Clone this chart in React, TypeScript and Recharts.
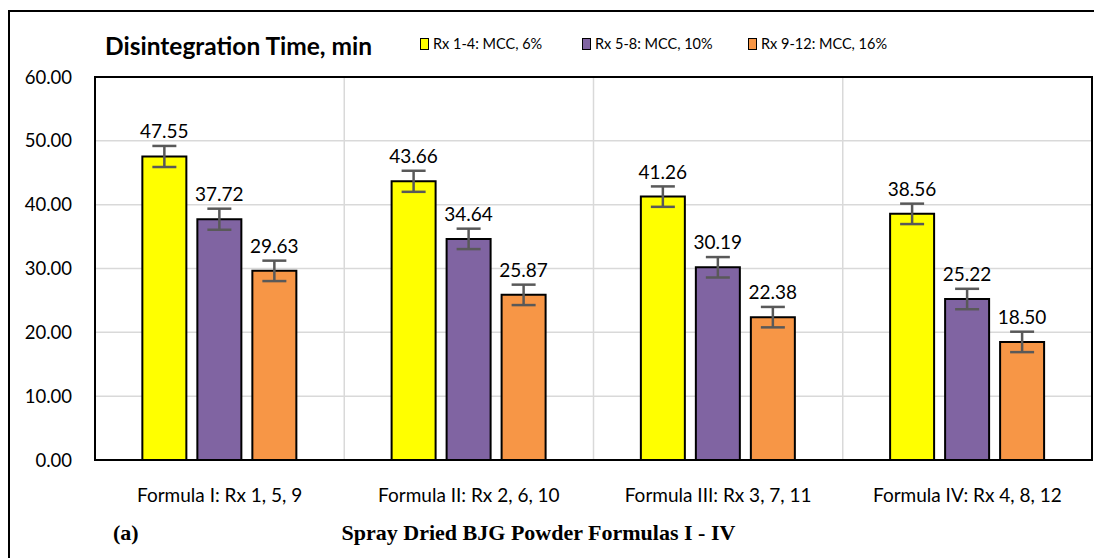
import { BarChart, Bar, XAxis, YAxis, CartesianGrid, ErrorBar, LabelList, ReferenceArea } from "recharts";

const categories = ["Formula I: Rx 1, 5, 9", "Formula II: Rx 2, 6, 10", "Formula III: Rx 3, 7, 11", "Formula IV: Rx 4, 8, 12"];
const mcc6 = [47.55, 43.66, 41.26, 38.56];
const mcc10 = [37.72, 34.64, 30.19, 25.22];
const mcc16 = [29.63, 25.87, 22.38, 18.5];
const err6 = [1.65, 1.65, 1.6, 1.6];
const err10 = [1.65, 1.6, 1.6, 1.6];
const err16 = [1.6, 1.6, 1.6, 1.6];
const yTicks = [0, 10, 20, 30, 40, 50, 60];

const series = [
  { key: "mcc6", err: "err6", name: "Rx 1-4: MCC, 6%", color: "#ffff00" },
  { key: "mcc10", err: "err10", name: "Rx 5-8: MCC, 10%", color: "#8064a2" },
  { key: "mcc16", err: "err16", name: "Rx 9-12: MCC, 16%", color: "#f79646" },
];

const data = categories.map((name, i) => ({
  name,
  mcc6: mcc6[i],
  mcc10: mcc10[i],
  mcc16: mcc16[i],
  err6: err6[i],
  err10: err10[i],
  err16: err16[i],
}));

const FONT = "Lato, 'Open Sans', sans-serif";
const SERIF = "'Liberation Serif', 'Times New Roman', serif";
const legendX = [420, 582, 748];

export default function App() {
  return (
    <div style={{ position: "absolute", left: 0, top: 0, width: 1094, height: 558, background: "#fff", overflow: "hidden" }}>
      <div
        style={{
          position: "absolute",
          left: 8,
          top: 10,
          width: 1100,
          height: 560,
          border: "2px solid #000",
          boxSizing: "border-box",
        }}
      />
      <div style={{ position: "absolute", left: 0, top: 0 }}>
        <BarChart
          width={1094}
          height={558}
          data={data}
          margin={{ top: 77, right: 2, bottom: 0, left: 8 }}
          barGap={11}
          barCategoryGap="19%"
        >
          <CartesianGrid
            stroke="#d9d9d9"
            strokeWidth={1.5}
            verticalCoordinatesGenerator={({ offset }: any) =>
              [1, 2, 3].map((i) => offset.left + (i * offset.width) / categories.length)
            }
          />
          <XAxis
            dataKey="name"
            height={98}
            tickLine={false}
            axisLine={{ stroke: "#000", strokeWidth: 2 }}
            tickSize={0}
            tickMargin={29}
            tick={{ fill: "#000", fontSize: 19, fontFamily: FONT }}
            interval={0}
          />
          <YAxis
            domain={[0, 60]}
            ticks={yTicks}
            width={87}
            tickLine={false}
            axisLine={false}
            tickSize={0}
            tickMargin={23}
            tickFormatter={(v: number) => v.toFixed(2)}
            tick={{ fill: "#000", fontSize: 18.5, fontFamily: FONT }}
          />
          <ReferenceArea y1={0} y2={60} fill="none" stroke="#000" strokeWidth={2} ifOverflow="visible" />
          {series.map((s) => (
            <Bar
              key={s.key}
              dataKey={s.key}
              name={s.name}
              fill={s.color}
              stroke="#000"
              strokeWidth={2}
              isAnimationActive={false}
            >
              <ErrorBar dataKey={s.err} width={12} stroke="#595959" strokeWidth={2.5} direction="y" />
              <LabelList
                dataKey={s.key}
                position="top"
                offset={18}
                formatter={(v: any) => Number(v).toFixed(2)}
                style={{ fill: "#000", fontSize: 19, fontFamily: FONT }}
              />
            </Bar>
          ))}
        </BarChart>
      </div>
      {series.map((s, i) => (
        <div key={s.key}>
          <div
            style={{
              position: "absolute",
              left: legendX[i],
              top: 38,
              width: 9,
              height: 12,
              background: s.color,
              border: "1.5px solid #000",
              boxSizing: "border-box",
            }}
          />
          <div
            style={{
              position: "absolute",
              left: legendX[i] + 13,
              top: 35,
              fontFamily: FONT,
              fontSize: 14.5,
              color: "#000",
              whiteSpace: "nowrap",
            }}
          >
            {s.name}
          </div>
        </div>
      ))}
      <div
        style={{
          position: "absolute",
          left: 105,
          top: 31,
          fontFamily: FONT,
          fontWeight: 700,
          fontSize: 24.5,
          color: "#000",
          whiteSpace: "nowrap",
        }}
      >
        Disintegration Time, min
      </div>
      <div
        style={{
          position: "absolute",
          left: 113,
          top: 520,
          fontFamily: SERIF,
          fontWeight: 700,
          fontSize: 22,
          color: "#000",
        }}
      >
        (a)
      </div>
      <div
        style={{
          position: "absolute",
          left: 290,
          width: 497,
          textAlign: "center",
          top: 520,
          fontFamily: SERIF,
          fontWeight: 700,
          fontSize: 22,
          color: "#000",
          whiteSpace: "nowrap",
        }}
      >
        Spray Dried BJG Powder Formulas I - IV
      </div>
    </div>
  );
}
